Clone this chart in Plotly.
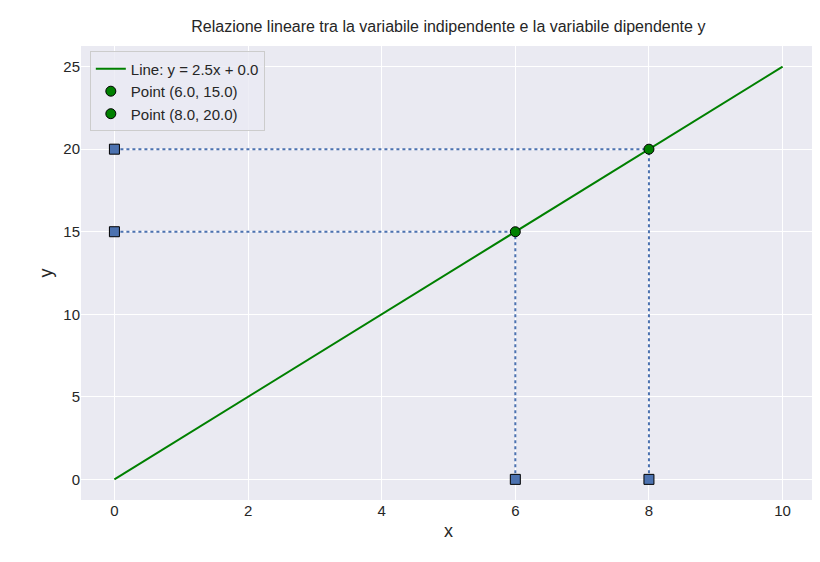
import plotly.graph_objects as go

# Data
line_x = [0, 10]
slope = 2.5
intercept = 0.0
line_y = [slope * v + intercept for v in line_x]
pts_x = [6.0, 8.0]
pts_y = [15.0, 20.0]

blue = '#4C72B0'
fig = go.Figure()

fig.add_trace(go.Scatter(x=line_x, y=line_y, mode='lines', name='Line: y = 2.5x + 0.0',
                         line=dict(color='green', width=2)))

for px, py in zip(pts_x, pts_y):
    # dotted projections
    fig.add_trace(go.Scatter(x=[0, px], y=[py, py], mode='lines', showlegend=False,
                             line=dict(color=blue, width=2, dash='dot')))
    fig.add_trace(go.Scatter(x=[px, px], y=[0, py], mode='lines', showlegend=False,
                             line=dict(color=blue, width=2, dash='dot')))
    fig.add_trace(go.Scatter(x=[0, px], y=[py, 0], mode='markers', showlegend=False,
                             marker=dict(symbol='square', size=10, color=blue,
                                         line=dict(color='black', width=1)), cliponaxis=False))

for px, py in zip(pts_x, pts_y):
    fig.add_trace(go.Scatter(x=[px], y=[py], mode='markers', name=f'Point ({px}, {py})',
                             marker=dict(size=10, color='green', line=dict(color='black', width=1)),
                             cliponaxis=False))

fig.update_layout(
    width=820, height=562,
    paper_bgcolor='white', plot_bgcolor='#EAEAF2',
    font=dict(family='Liberation Sans, Arial', size=15, color='#262626'),
    title=dict(text='Relazione lineare tra la variabile indipendente e la variabile dipendente y',
               x=0.537, xanchor='center', y=0.968, yanchor='middle', font=dict(size=16)),
    margin=dict(l=73, r=12, t=38, b=70, autoexpand=False),
    legend=dict(x=0.012, y=0.988, xanchor='left', yanchor='top', bgcolor='rgba(234,234,242,0.8)',
                bordercolor='#CCCCCC', borderwidth=1, font=dict(size=15)),
)
fig.update_xaxes(title=dict(text='x', standoff=6), range=[-0.5, 10.5], tickvals=[0, 2, 4, 6, 8, 10],
                 gridcolor='white', gridwidth=1.3, zeroline=False, showline=False, ticks='',
                 automargin=False)
fig.update_yaxes(title=dict(text='y', standoff=6), range=[-1.25, 26.25], tickvals=[0, 5, 10, 15, 20, 25],
                 gridcolor='white', gridwidth=1.3, zeroline=False, showline=False, ticks='',
                 automargin=False)

fig.write_html('out.html')
